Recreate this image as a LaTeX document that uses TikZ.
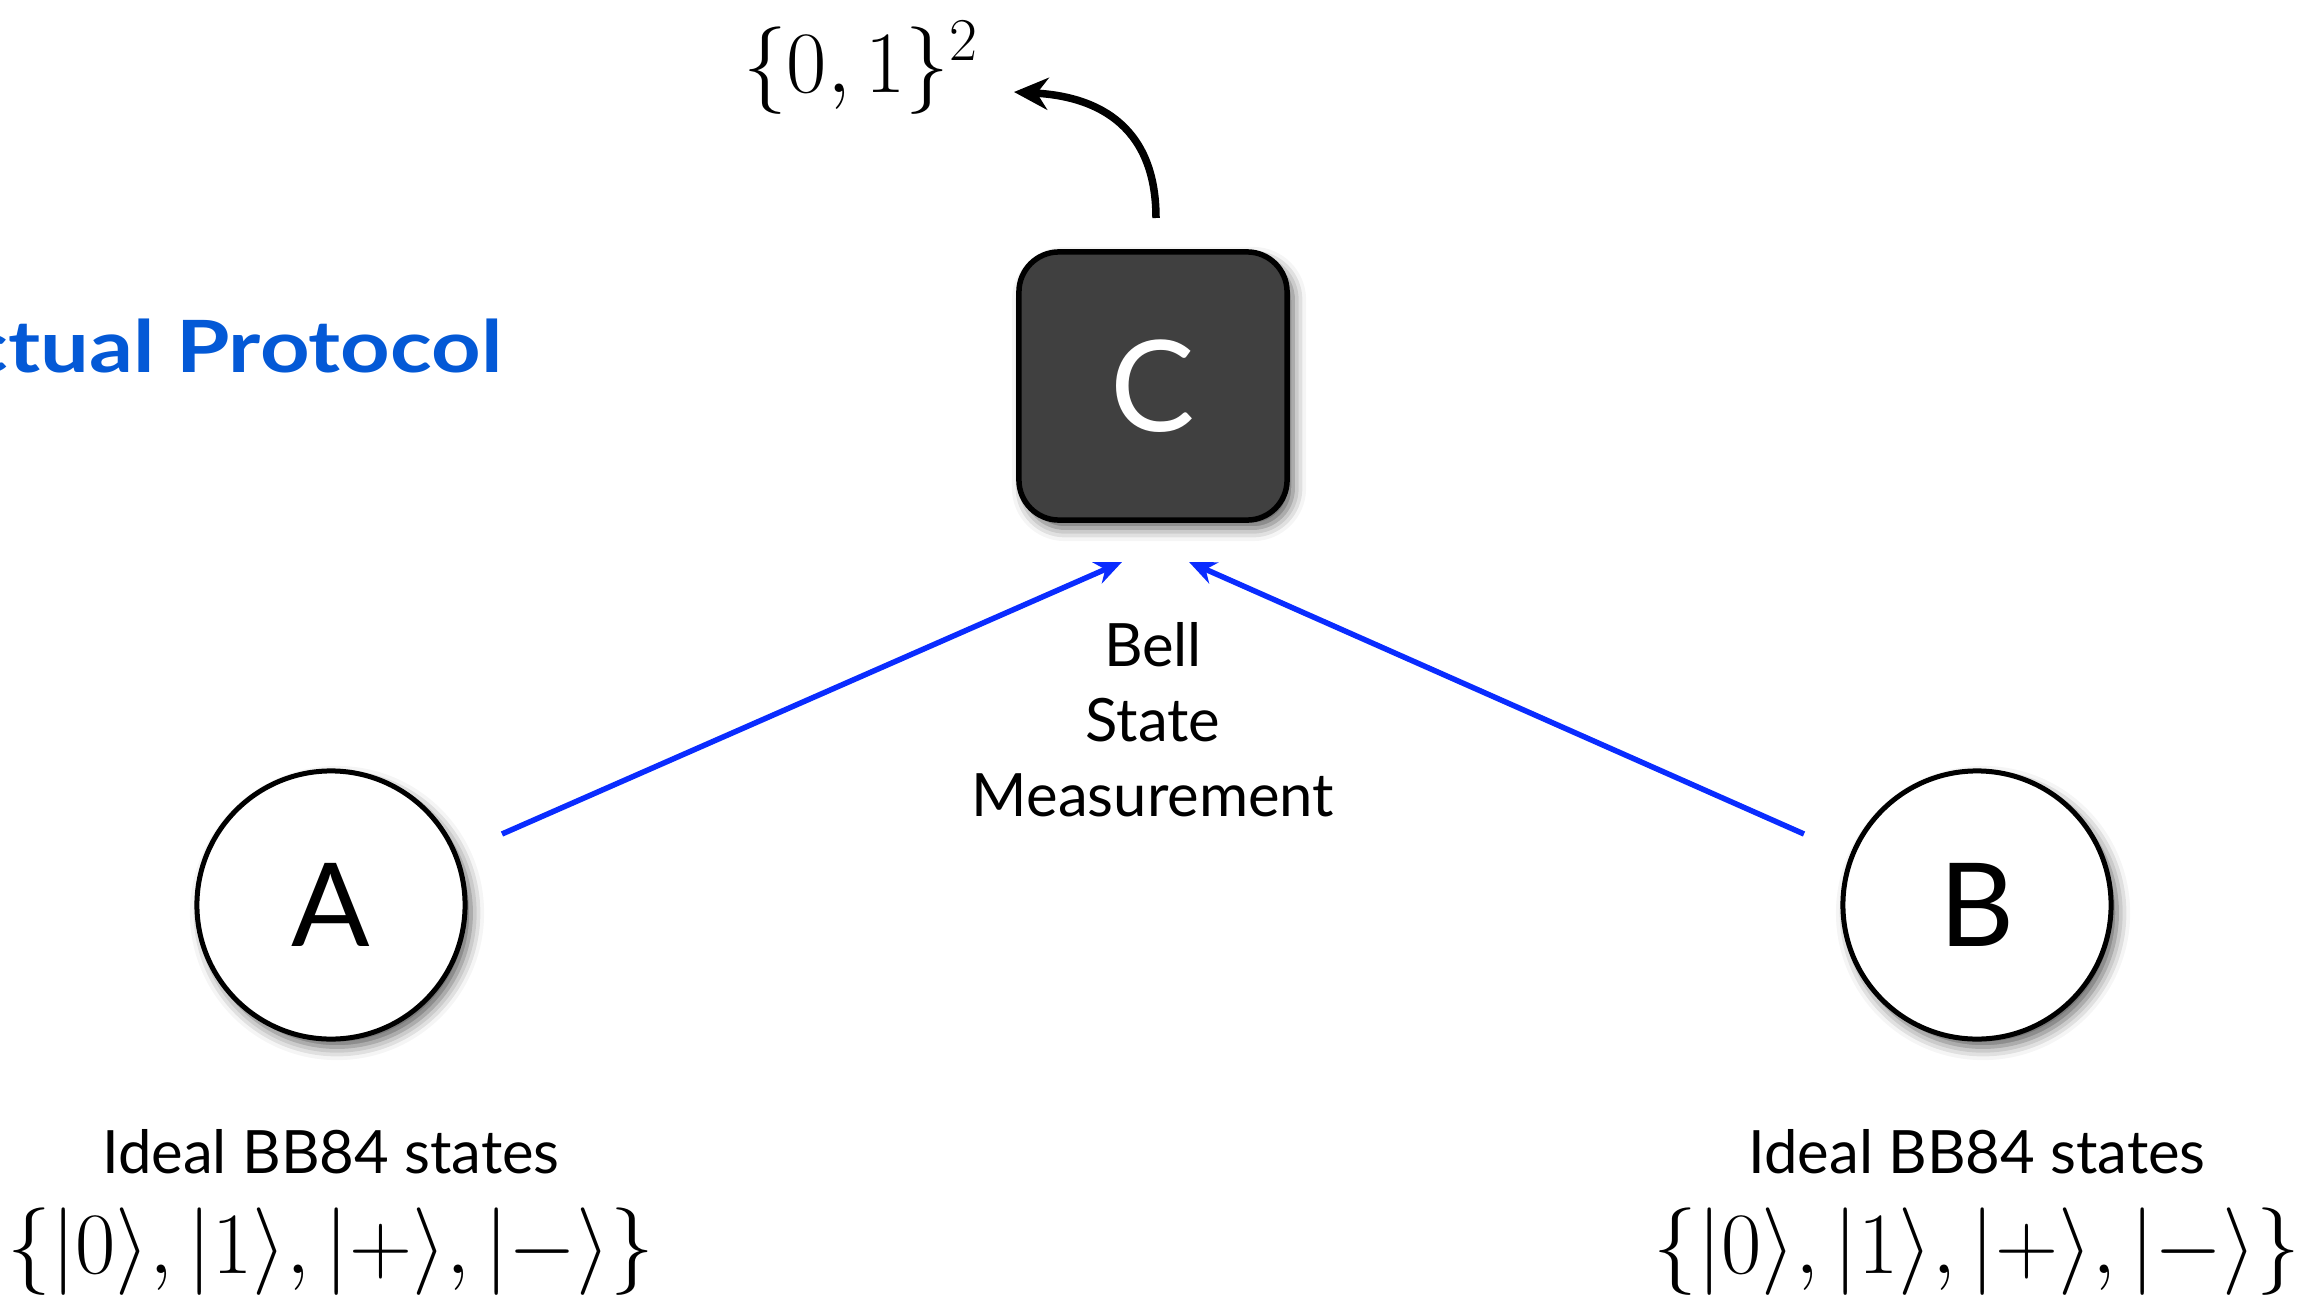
\documentclass[tikz,border=0pt]{standalone}
\usepackage{fontspec}
\setmainfont{Lato}
\newfontfamily\titlefont[FakeStretch=1.2]{Lato}
\usetikzlibrary{arrows.meta,shadows.blur}
\definecolor{linkblue}{HTML}{0A2CFF}
\definecolor{titleblue}{HTML}{0459D6}
\definecolor{boxgray}{HTML}{404040}
\begin{document}
\begin{tikzpicture}[x=0.01cm,y=-0.01cm,
  party/.style={circle,draw=black,fill=white,line width=0.05cm,minimum size=2.68cm,inner sep=0pt,
    font=\fontsize{33}{36}\selectfont,
    blur shadow={shadow xshift=0.06cm,shadow yshift=-0.08cm,shadow blur radius=0.13cm,shadow opacity=65}},
  cbox/.style={rectangle,rounded corners=0.4cm,draw=black,fill=boxgray,line width=0.055cm,minimum size=2.68cm,inner sep=0pt,
    text=white,font=\fontsize{36}{40}\selectfont,
    blur shadow={shadow xshift=0.06cm,shadow yshift=-0.08cm,shadow blur radius=0.13cm,shadow opacity=65}},
  bluelink/.style={draw=linkblue,line width=0.055cm,-{Stealth[length=0.27cm,width=0.23cm]}},
  blacklink/.style={draw=black,line width=0.075cm,-{Stealth[length=0.34cm,width=0.32cm]}},
  label/.style={font=\fontsize{17}{21.3}\selectfont,align=center,inner sep=0pt},
  mathlabel/.style={font=\fontsize{23.4}{28}\selectfont,inner sep=0pt}
]
\clip (0,0) rectangle (2315,1297);
\useasboundingbox (0,0) rectangle (2315,1297);

\node[anchor=base east,text=titleblue,font=\titlefont\fontsize{20.5}{24}\selectfont\bfseries,inner sep=0pt] (title) at (503,372) {Actual Protocol};

\node[cbox] (C) at (1153,386) {C};
\node[party] (A) at (331,905) {A};
\node[party] (B) at (1977,905) {B};

\node[label] (bsm) at (1153,720) {Bell\\State\\Measurement};

\node[label] (la) at (331,1152) {Ideal BB84 states};
\node[label] (lb) at (1977,1152) {Ideal BB84 states};
\node[mathlabel] (ma) at (331,1252) {$\{|0\rangle,|1\rangle,|+\rangle,|-\rangle\}$};
\node[mathlabel] (mb) at (1977,1252) {$\{|0\rangle,|1\rangle,|+\rangle,|-\rangle\}$};

\node[mathlabel,font=\fontsize{27}{30}\selectfont] (bits) at (861,68) {$\{0,1\}^2$};

\coordinate (a1) at (502,834);
\coordinate (a2) at (1122,562);
\coordinate (b1) at (1804,834);
\coordinate (b2) at (1189,562);
\coordinate (c1) at (1156,218);
\coordinate (c2) at (1014,92);

\draw[bluelink] (a1) -- (a2);
\draw[bluelink] (b1) -- (b2);
\draw[blacklink] (c1) .. controls (1156,120) and (1090,96) .. (c2);
\end{tikzpicture}
\end{document}
